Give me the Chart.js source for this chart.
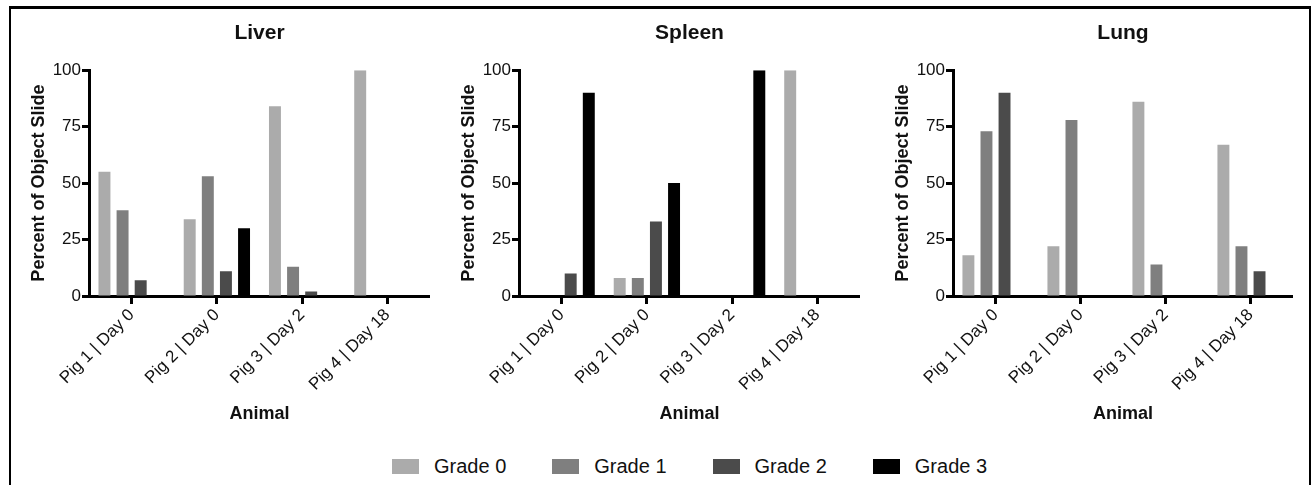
<!DOCTYPE html>
<html>
<head>
<meta charset="utf-8">
<script src="https://cdn.jsdelivr.net/npm/chart.js@4.4.1/dist/chart.umd.min.js"></script>
<style>
  html, body { margin: 0; padding: 0; background: #fff; }
  #wrap { position: relative; width: 1312px; height: 485px; overflow: hidden; background: #fff; font-family: 'Liberation Sans', Arial, sans-serif; }
  #frame { position: absolute; left: 9px; top: 6px; width: 1298px; height: 500px; border: 2px solid #000; border-top-width: 3px; border-bottom: none; }
  canvas { position: absolute; top: 8px; }
  #legend { position: absolute; left: 392px; top: 455px; display: flex; align-items: center; font-size: 20px; color: #111; }
  .item { display: flex; align-items: center; margin-right: 46px; }
  .swatch { width: 27px; height: 15px; margin-right: 15px; }
</style>
</head>
<body>
<div id="wrap">
  <div id="frame"></div>
  <canvas id="liver" width="418" height="432" style="left:12px"></canvas>
  <canvas id="spleen" width="418" height="432" style="left:442px"></canvas>
  <canvas id="lung" width="417" height="432" style="left:876px"></canvas>
  <div id="legend"></div>
</div>
<script>
const animals = ['Pig 1 | Day 0', 'Pig 2 | Day 0', 'Pig 3 | Day 2', 'Pig 4 | Day 18'];
const gradeNames = ['Grade 0', 'Grade 1', 'Grade 2', 'Grade 3'];
const gradeColors = ['#ababab', '#7f7f7f', '#4b4b4b', '#000000'];
const yTicks = [0, 25, 50, 75, 100];

// liver
const liverGrade0 = [55, 34, 84, 100];
const liverGrade1 = [38, 53, 13, 0];
const liverGrade2 = [7, 11, 2, 0];
const liverGrade3 = [0, 30, 0, 0];

// spleen
const spleenGrade0 = [0, 8, 0, 100];
const spleenGrade1 = [0, 8, 0, 0];
const spleenGrade2 = [10, 33, 0, 0];
const spleenGrade3 = [90, 50, 100, 0];

// lung
const lungGrade0 = [18, 22, 86, 67];
const lungGrade1 = [73, 78, 14, 22];
const lungGrade2 = [90, 0, 0, 11];
const lungGrade3 = [0, 0, 0, 0];

const family = "'Liberation Sans', Arial, sans-serif";

function makeChart(id, title, series) {
  new Chart(document.getElementById(id), {
    type: 'bar',
    data: {
      labels: animals,
      datasets: series.map((vals, i) => ({
        label: gradeNames[i],
        data: vals,
        backgroundColor: gradeColors[i],
        borderWidth: 0,
        categoryPercentage: 0.85,
        barPercentage: 0.66
      }))
    },
    options: {
      responsive: false,
      animation: false,
      layout: { padding: 0 },
      plugins: {
        legend: { display: false },
        tooltip: { enabled: false },
        title: {
          display: true, text: title, fullSize: false, color: '#111',
          font: { family, size: 21, weight: 'bold' },
          padding: { top: 13, bottom: 24 }
        }
      },
      scales: {
        x: {
          offset: true,
          grid: { offset: false, drawOnChartArea: false, tickLength: 8, tickWidth: 3, tickColor: '#000' },
          border: { color: '#000', width: 3 },
          ticks: { color: '#111', font: { family, size: 17 }, minRotation: 45, maxRotation: 45, autoSkip: false, padding: 1 },
          title: { display: true, text: 'Animal', color: '#111', font: { family, size: 18, weight: 'bold' }, padding: { top: 0, bottom: 15 } },
          afterFit: s => { s.height = 144; }
        },
        y: {
          min: 0, max: 100,
          afterBuildTicks: s => { s.ticks = yTicks.map(v => ({ value: v })); },
          grid: { drawOnChartArea: false, tickLength: 7, tickWidth: 3, tickColor: '#000' },
          border: { color: '#000', width: 3 },
          ticks: { color: '#111', font: { family, size: 17 }, padding: 1 },
          title: { display: true, text: 'Percent of Object Slide', color: '#111', font: { family, size: 18, weight: 'bold' }, padding: { top: 16, bottom: 0 } },
          afterFit: s => { s.width = 77; }
        }
      }
    }
  });
}

makeChart('liver', 'Liver', [liverGrade0, liverGrade1, liverGrade2, liverGrade3]);
makeChart('spleen', 'Spleen', [spleenGrade0, spleenGrade1, spleenGrade2, spleenGrade3]);
makeChart('lung', 'Lung', [lungGrade0, lungGrade1, lungGrade2, lungGrade3]);

// legend
const legend = document.getElementById('legend');
gradeNames.forEach((name, i) => {
  const item = document.createElement('div');
  item.className = 'item';
  const sw = document.createElement('span');
  sw.className = 'swatch';
  sw.style.background = gradeColors[i];
  const txt = document.createElement('span');
  txt.textContent = name;
  item.appendChild(sw);
  item.appendChild(txt);
  legend.appendChild(item);
});
</script>
</body>
</html>
